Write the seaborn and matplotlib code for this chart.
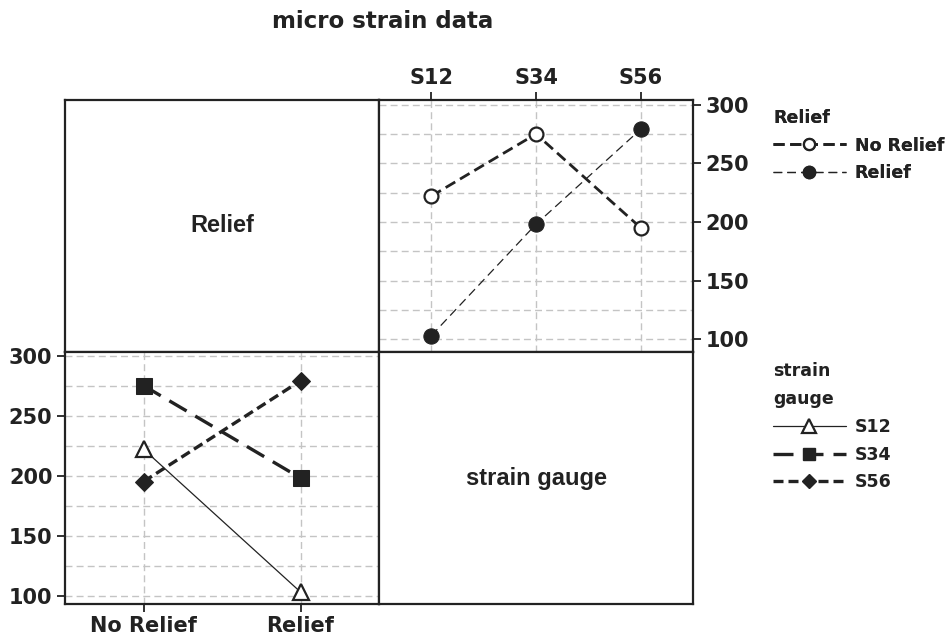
import matplotlib
matplotlib.use("Agg")
import matplotlib.pyplot as plt
from matplotlib.lines import Line2D
import numpy as np
import pandas as pd
import seaborn as sns

# ── data ──
relief_levels = ["No Relief", "Relief"]
gauges = ["S12", "S34", "S56"]
no_relief_vals = [222, 275, 195]   # S12, S34, S56
relief_vals = [103, 198, 279]

df = pd.DataFrame({
    "gauge": gauges * 2,
    "relief": ["No Relief"] * 3 + ["Relief"] * 3,
    "strain": no_relief_vals + relief_vals,
})

INK = "#222222"
GRID = "#c4c4c4"

sns.set_theme(style="white")
plt.rcParams["font.family"] = ["DejaVu Sans"]
plt.rcParams["font.weight"] = "bold"

fig = plt.figure(figsize=(9.48, 6.41), dpi=100)

L, W = 65 / 948, 314 / 948
B, H = 1 - 604 / 641, 252 / 641
ax_tl = fig.add_axes([L, B + H, W, H])
ax_tr = fig.add_axes([L + W, B + H, W, H])
ax_bl = fig.add_axes([L, B, W, H])
ax_br = fig.add_axes([L + W, B, W, H])

# styles
relief_style = {
    "No Relief": dict(linestyle=(0, (4, 2)), linewidth=2.0, marker="o",
                      markerfacecolor="white", markeredgecolor=INK,
                      markeredgewidth=1.6, markersize=10),
    "Relief": dict(linestyle=(0, (7, 4)), linewidth=0.9, marker="o",
                   markerfacecolor=INK, markeredgecolor=INK, markersize=11),
}
gauge_style = {
    "S12": dict(linestyle="-", linewidth=0.9, marker="^", markerfacecolor="white",
                markeredgecolor=INK, markeredgewidth=1.6, markersize=12),
    "S34": dict(linestyle=(0, (6, 3)), linewidth=2.4, marker="s",
                markerfacecolor=INK, markeredgecolor=INK, markersize=11),
    "S56": dict(linestyle=(0, (3, 1.5)), linewidth=2.4, marker="D",
                markerfacecolor=INK, markeredgecolor=INK, markersize=9),
}


def style_grid(ax, ncat, ylim):
    ax.set_ylim(*ylim)
    ax.set_xlim(-0.5, ncat - 0.5)
    for y in np.arange(100, 301, 25):
        ax.axhline(y, color=GRID, linestyle=(0, (5, 3)), linewidth=1.0, zorder=0)
    for x in range(ncat):
        ax.axvline(x, color=GRID, linestyle=(0, (5, 3)), linewidth=1.0, zorder=0)
    ax.set_yticks([100, 150, 200, 250, 300])
    ax.set_xlabel("")
    ax.set_ylabel("")
    ax.tick_params(length=6, width=1.3, color=INK, labelsize=15,
                   labelcolor=INK, direction="out", pad=3)
    for lbl in ax.get_xticklabels() + ax.get_yticklabels():
        lbl.set_fontweight("bold")


# ── top right: strain vs gauge by relief ──
for lev in relief_levels:
    sub = df[df["relief"] == lev]
    sns.lineplot(data=sub, x="gauge", y="strain", ax=ax_tr, color=INK,
                 sort=False, legend=False, **relief_style[lev])
style_grid(ax_tr, 3, (89, 304))
ax_tr.xaxis.tick_top()
ax_tr.yaxis.tick_right()
ax_tr.tick_params(left=False, bottom=False, top=True, right=True)

# ── bottom left: strain vs relief by gauge ──
for g in gauges:
    sub = df[df["gauge"] == g]
    sns.lineplot(data=sub, x="relief", y="strain", ax=ax_bl, color=INK,
                 sort=False, legend=False, **gauge_style[g])
style_grid(ax_bl, 2, (93, 303))
ax_bl.tick_params(left=True, bottom=True, top=False, right=False)

# ── diagonal label panels ──
for ax, label in [(ax_tl, "Relief"), (ax_br, "strain gauge")]:
    ax.set_xticks([])
    ax.set_yticks([])
    ax.text(0.5, 0.5, label, transform=ax.transAxes, ha="center",
            va="center", fontsize=17, color=INK, fontweight="bold",
            family="Liberation Sans")

for ax in [ax_tl, ax_tr, ax_bl, ax_br]:
    for sp in ax.spines.values():
        sp.set_color(INK)
        sp.set_linewidth(1.6)
        sp.set_visible(True)

fig.text(383 / 948, 1 - 21 / 641, "micro strain data", ha="center",
         va="center", fontsize=16.5, fontweight="bold", color=INK)

# ── legends ──
h_relief = [Line2D([], [], color=INK, **relief_style[k]) for k in relief_levels]
h_gauge = [Line2D([], [], color=INK, **gauge_style[k]) for k in gauges]
for h in h_relief + h_gauge:
    h.set_markersize(h.get_markersize() * 0.8)

leg_kw = dict(loc="upper left", frameon=False, fontsize=12.5, title_fontsize=12.5,
              handlelength=4.2, handletextpad=0.5, labelspacing=0.55,
              borderaxespad=0.0, borderpad=0.0)
leg1 = fig.legend(h_relief, relief_levels, title="Relief",
                  bbox_to_anchor=(773 / 948, 1 - 109 / 641), **leg_kw)
leg1._legend_box.align = "left"

leg2 = fig.legend(h_gauge, gauges, title="strain\ngauge",
                  bbox_to_anchor=(773 / 948, 1 - 362 / 641), **leg_kw)
leg2._legend_box.align = "left"
leg2.get_title().set_linespacing(1.75)
fig.add_artist(leg1)

for leg in (leg1, leg2):
    for t in leg.get_texts():
        t.set_color(INK)
        t.set_fontweight("bold")
    leg.get_title().set_color(INK)
    leg.get_title().set_fontweight("bold")

fig.savefig("out.png", dpi=100)
